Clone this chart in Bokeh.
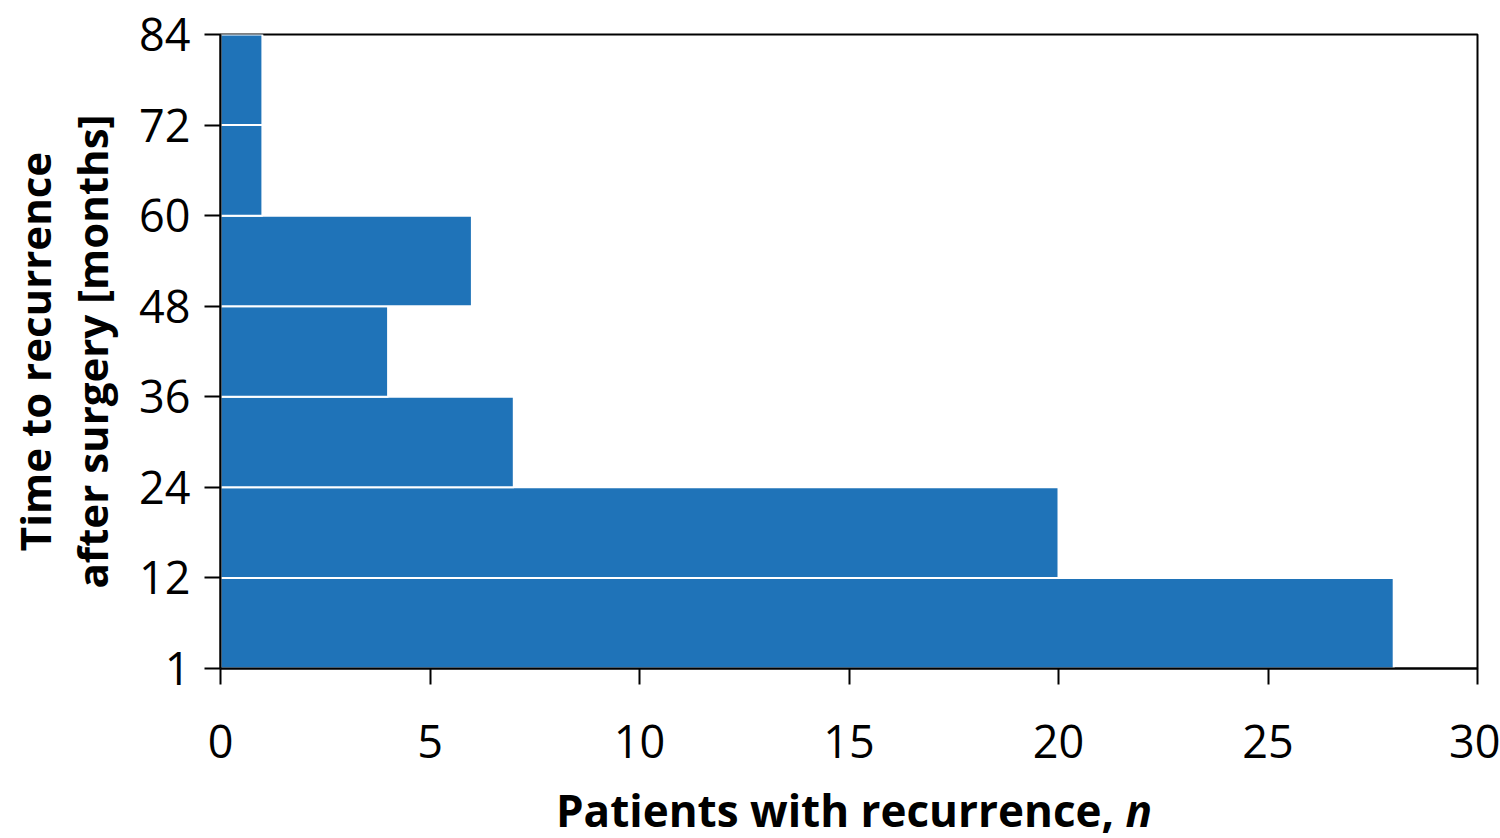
from bokeh.plotting import figure
from bokeh.models import Range1d, FixedTicker, Div
from bokeh.layouts import column
from bokeh.embed import file_html
from bokeh.resources import INLINE

# Data
bin_labels = ["1", "12", "24", "36", "48", "60", "72", "84"]   # bin edges (months)
counts = [28, 20, 7, 4, 6, 1, 1]                                 # patients per bin
x_ticks = [0, 5, 10, 15, 20, 25, 30]
x_title = "Patients with recurrence,"
x_title_var = "n"
y_title = "Time to recurrence\nafter surgery [months]"

FONT = "Open Sans"
BAR = "#1f73b8"

n_bins = len(counts)
centers = [i + 0.5 for i in range(n_bins)]

p = figure(width=1500, height=788, output_backend="svg", toolbar_location=None,
           x_range=Range1d(0, 30), y_range=Range1d(0, n_bins),
           min_border_left=220, min_border_right=23, min_border_top=34,
           min_border_bottom=120)

p.hbar(y=centers, left=0, right=counts, height=1.0,
       fill_color=BAR, line_color="white", line_width=2)

p.grid.visible = False
p.outline_line_color = "black"
p.outline_line_width = 2
p.outline_line_alpha = 1

for ax in (p.xaxis[0], p.yaxis[0]):
    ax.axis_line_width = 2
    ax.axis_line_color = "black"
    ax.major_tick_line_width = 2
    ax.major_tick_line_color = "black"
    ax.major_tick_in = 0
    ax.major_tick_out = 16
    ax.minor_tick_line_color = None
    ax.major_label_text_font = FONT
    ax.major_label_text_font_size = "45px"
    ax.major_label_text_color = "black"
    ax.axis_label_text_font = FONT
    ax.axis_label_text_font_size = "42px"
    ax.axis_label_text_font_style = "bold"
    ax.axis_label_text_color = "black"

p.xaxis.ticker = FixedTicker(ticks=x_ticks)
p.xaxis.major_label_standoff = 40
p.xaxis.axis_label = None

p.yaxis.ticker = FixedTicker(ticks=list(range(n_bins + 1)))
p.yaxis.major_label_overrides = {i: lab for i, lab in enumerate(bin_labels)}
p.yaxis.major_label_standoff = 14
p.yaxis.axis_label = y_title
p.yaxis.axis_label_text_line_height = 1.0
p.yaxis.axis_label_standoff = 16

xlab = Div(
    text=('<div style="width:1292px; margin-left:208px; text-align:center; '
          'white-space:nowrap; font-family:\'Open Sans\'; font-size:44px; '
          'font-weight:bold; line-height:44px; color:black;">'
          f'{x_title} <i>{x_title_var}</i></div>'),
    width=1500, height=50, margin=(0, 0, 0, 0))

layout = column(p, xlab, spacing=0)

open("out.html", "w").write(file_html(layout, INLINE))
